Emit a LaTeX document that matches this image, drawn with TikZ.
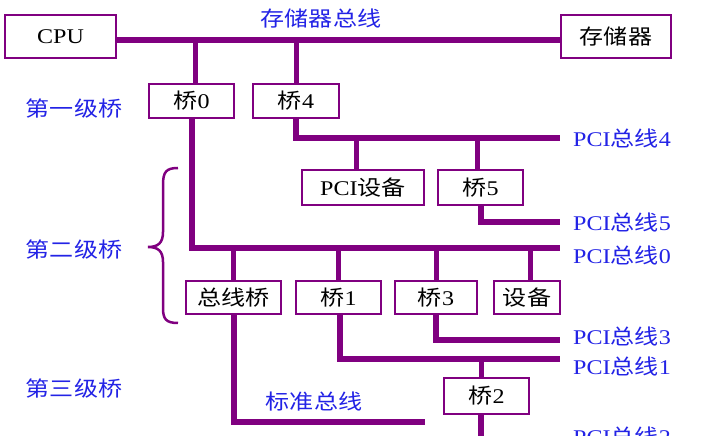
\documentclass[tikz,border=0pt]{standalone}
\usepackage{fontspec}
\setmainfont{Liberation Serif}[FakeStretch=1.15]
\newfontfamily\cjkfont{Noto Sans CJK SC}[FakeStretch=1.15,Scale=1.0]
\newcommand\zhtxt[1]{{\cjkfont #1}}
\definecolor{pur}{RGB}{128,0,128}
\definecolor{lblue}{RGB}{35,35,230}
\begin{document}
\begin{tikzpicture}[x=1bp,y=-1bp,
 box/.style={draw=pur,line width=2.8bp,fill=white,inner sep=0pt,minimum height=36bp,font=\fontsize{21}{24}\selectfont},
 lbl/.style={text=lblue,inner sep=0pt,font=\fontsize{21}{24}\selectfont},
 bus/.style={draw=pur,line width=6bp},
 link/.style={draw=pur,line width=5bp},
 bracestyle/.style={draw=pur,line width=2.5bp}]
\useasboundingbox (0,0) rectangle (723,436);
\fill[white] (0,0) rectangle (723,436);
% coordinates for bus ends
\coordinate (mbL) at (117,40);
\coordinate (p4) at (560,138);
\coordinate (p5) at (560,222);
\coordinate (p0) at (560,248);
\coordinate (p3) at (560,340);
\coordinate (p1) at (560,359);
\coordinate (p2) at (560,441);
\coordinate (sb) at (425,422);
% boxes
\node[box,minimum width=111bp,minimum height=43bp] (cpu) at (60.5,36.5) {CPU};
\node[box,minimum width=110bp,minimum height=43bp] (mem) at (616,36.5) {\zhtxt{存储器}};
\node[box,minimum width=85bp,minimum height=34bp] (b0) at (191.5,101) {\zhtxt{桥}0};
\node[box,minimum width=86bp,minimum height=34bp] (b4) at (296,101) {\zhtxt{桥}4};
\node[box,minimum width=122bp,minimum height=35bp] (pcid) at (363,187.5) {PCI\zhtxt{设备}};
\node[box,minimum width=85bp,minimum height=35bp] (b5) at (480.5,187.5) {\zhtxt{桥}5};
\node[box,minimum width=95bp,minimum height=33bp] (zxq) at (233.5,297.5) {\zhtxt{总线桥}};
\node[box,minimum width=85bp,minimum height=33bp] (b1) at (338.5,297.5) {\zhtxt{桥}1};
\node[box,minimum width=82bp,minimum height=33bp] (b3) at (436,297.5) {\zhtxt{桥}3};
\node[box,minimum width=66bp,minimum height=33bp] (dev) at (527,297.5) {\zhtxt{设备}};
\node[box,minimum width=85bp,minimum height=36bp] (b2) at (486.5,396) {\zhtxt{桥}2};
% connectors
\draw[bus] (cpu.east |- mbL) -- (mem.west |- mbL);
\draw[link] ([xshift=3.5bp]b0.north) -- ([xshift=3.5bp]b0.north |- mbL);
\draw[link] (b4.north) -- (b4.north |- mbL);
\draw[bus] (b4.south) |- (p4);
\draw[link] ([xshift=-7bp]pcid.north) -- ([xshift=-7bp]pcid.north |- p4);
\draw[link] ([xshift=-3.5bp]b5.north) -- ([xshift=-3.5bp]b5.north |- p4);
\draw[bus] (b5.south) |- (p5);
\draw[bus] (b0.south) |- (p0);
\draw[link] (zxq.north) -- (zxq.north |- p0);
\draw[link] (b1.north) -- (b1.north |- p0);
\draw[link] (b3.north) -- (b3.north |- p0);
\draw[link] ([xshift=3bp]dev.north) -- ([xshift=3bp]dev.north |- p0);
\draw[bus] (zxq.south) |- (sb);
\draw[bus] ([xshift=1.5bp]b1.south) |- (p1);
\draw[bus] (b3.south) |- (p3);
\draw[link] ([xshift=-5.5bp]b2.north) -- ([xshift=-5.5bp]b2.north |- p1);
\draw[bus] ([xshift=-5.5bp]b2.south) |- (p2);
% brace
\draw[bracestyle] (178,168) .. controls (166,168) and (163,172) .. (163,185) -- (163,232) .. controls (163,243) and (158,247) .. (148,247) .. controls (158,247) and (163,251) .. (163,262) -- (163,308) .. controls (163,319) and (166,323) .. (178,323);
% labels
\node[lbl] (tmb) at (321,19) {\zhtxt{存储器总线}};
\node[lbl] (l1) at (74,109) {\zhtxt{第一级桥}};
\node[lbl] (l2) at (74,250) {\zhtxt{第二级桥}};
\node[lbl] (l3) at (74,389) {\zhtxt{第三级桥}};
\node[lbl] (tsb) at (314,402) {\zhtxt{标准总线}};
\node[lbl,anchor=west] (t4) at (573,138) {PCI\zhtxt{总线}4};
\node[lbl,anchor=west] (t5) at (573,222) {PCI\zhtxt{总线}5};
\node[lbl,anchor=west] (t0) at (573,255) {PCI\zhtxt{总线}0};
\node[lbl,anchor=west] (t3) at (573,336) {PCI\zhtxt{总线}3};
\node[lbl,anchor=west] (t1) at (573,366) {PCI\zhtxt{总线}1};
\node[lbl,anchor=west] (t2) at (573,436) {PCI\zhtxt{总线}2};
\end{tikzpicture}
\end{document}
